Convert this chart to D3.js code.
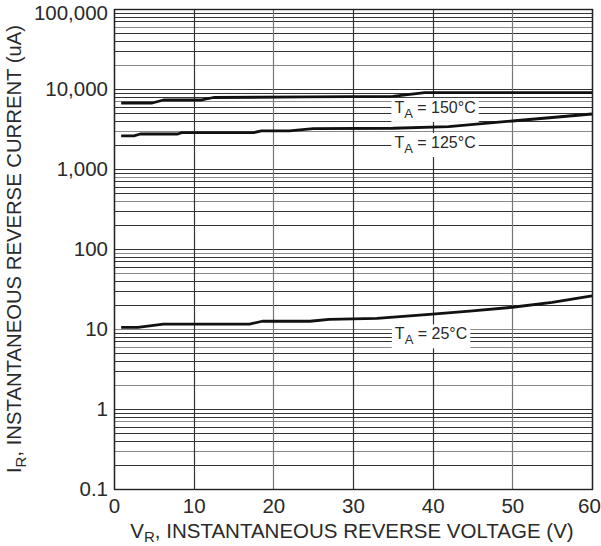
<!DOCTYPE html>
<html><head><meta charset="utf-8">
<script src="https://cdn.jsdelivr.net/npm/d3@7"></script>
<style>body{margin:0;background:#fff}svg{display:block}text{font-family:"Liberation Sans",Arial,sans-serif;fill:#2a2a2a}</style>
</head><body><svg id="c" width="601" height="546"></svg>
<script>
const xTicks = [0, 10, 20, 30, 40, 50, 60];
const yTicks = [0.1, 1, 10, 100, 1000, 10000, 100000];
const yTickLabels = ["0.1", "1", "10", "100", "1,000", "10,000", "100,000"];
const v150 = [0.9, 4.8, 6.2, 11, 12.5, 24, 35, 39, 60];
const i150 = [6680, 6680, 7290, 7290, 7830, 7950, 8100, 8990, 8990];
const v125 = [0.9, 2.5, 3.3, 8, 8.5, 17.5, 18.5, 22, 25, 35, 42, 50, 60];
const i125 = [2590, 2590, 2740, 2740, 2850, 2850, 2990, 2990, 3190, 3230, 3380, 3980, 4870];
const v25 = [0.9, 3, 6.2, 17, 18.6, 24.6, 27, 33, 40, 45, 50, 55, 60];
const i25 = [10.5, 10.5, 11.5, 11.5, 12.5, 12.5, 13.2, 13.6, 15.3, 16.8, 18.7, 21.5, 26];
const seriesLabels = [
  {name: "150", v: 40.3, i: 5900},
  {name: "125", v: 40.3, i: 2150},
  {name: "25", v: 39.8, i: 8.7}
];

const svg = d3.select("#c");
const L = 114, R = 592, T = 9, B = 489;
const x = d3.scaleLinear().domain([0, 60]).range([L, R]);
const y = d3.scaleLog().domain([0.1, 100000]).range([B, T]);

const grid = svg.append("g");
const hLines = [];
for (let e = -1; e < 5; e++) for (let m = 1; m <= 9; m++) hLines.push(m * Math.pow(10, e));
hLines.push(100000);
grid.selectAll("line.h").data(hLines).join("line")
  .attr("x1", L).attr("x2", R)
  .attr("y1", d => Math.round(y(d)) + 0.5).attr("y2", d => Math.round(y(d)) + 0.5)
  .attr("stroke", (d, i) => (i % 4 === 2 ? "#8a8a8a" : "#333")).attr("stroke-width", 1.1);
grid.selectAll("line.v").data(xTicks).join("line")
  .attr("y1", T).attr("y2", B)
  .attr("x1", d => Math.round(x(d)) + 0.5).attr("x2", d => Math.round(x(d)) + 0.5)
  .attr("stroke", d => (d === 20 || d === 50 ? "#777" : "#333")).attr("stroke-width", 1.2);
svg.append("rect").attr("x", L + 0.5).attr("y", T + 0.5).attr("width", R - L).attr("height", B - T)
  .attr("fill", "none").attr("stroke", "#222").attr("stroke-width", 1.4);

const xAxis = svg.append("g").attr("transform", `translate(0,${B})`)
  .call(d3.axisBottom(x).tickValues(xTicks).tickSize(0).tickPadding(9));
xAxis.select(".domain").remove();
xAxis.selectAll("text").style("font-size", "20.5px").attr("fill", "#2a2a2a")
  .attr("dx", d => (d === 60 ? -3 : 0));
const yAxis = svg.append("g").attr("transform", `translate(${L},0)`)
  .call(d3.axisLeft(y).tickValues(yTicks).tickFormat((d, i) => yTickLabels[i]).tickSize(0).tickPadding(6));
yAxis.select(".domain").remove();
yAxis.selectAll("text").style("font-size", "20.5px").attr("fill", "#2a2a2a")
  .attr("y", d => (d === 100000 ? 4 : 0));

const line = d3.line().x(d => x(d[0])).y(d => y(d[1]));
[[v150, i150], [v125, i125], [v25, i25]].forEach(([vs, is]) => {
  svg.append("path").datum(vs.map((v, k) => [v, is[k]]))
    .attr("d", line).attr("fill", "none").attr("stroke", "#111").attr("stroke-width", 2.8)
    .attr("stroke-linejoin", "round");
});

seriesLabels.forEach(s => {
  const g = svg.append("g").attr("transform", `translate(${x(s.v)},${y(s.i)})`);
  const t = g.append("text").attr("text-anchor", "middle").style("font-size", "16px").attr("dy", "0.35em");
  t.append("tspan").text("T");
  t.append("tspan").attr("dy", 5).style("font-size", "13px").text("A");
  t.append("tspan").attr("dy", -5).text(" = " + s.name + "°C");
  const bb = t.node().getBBox();
  g.insert("rect", "text").attr("x", bb.x - 3).attr("y", bb.y - 1).attr("width", bb.width + 6).attr("height", bb.height + 2).attr("fill", "#fff");
});

const xt = svg.append("text").attr("x", (L + R) / 2 - 1).attr("y", 538).attr("text-anchor", "middle").style("font-size", "20.5px");
xt.append("tspan").text("V");
xt.append("tspan").attr("dy", 4).style("font-size", "15px").text("R");
xt.append("tspan").attr("dy", -4).text(", INSTANTANEOUS REVERSE VOLTAGE (V)");
const yt = svg.append("text").attr("transform", `translate(21,${(T + B) / 2}) rotate(-90)`).attr("text-anchor", "middle").style("font-size", "20.3px");
yt.append("tspan").text("I");
yt.append("tspan").attr("dy", 5).style("font-size", "15px").text("R");
yt.append("tspan").attr("dy", -5).text(", INSTANTANEOUS REVERSE CURRENT (uA)");
</script></body></html>
